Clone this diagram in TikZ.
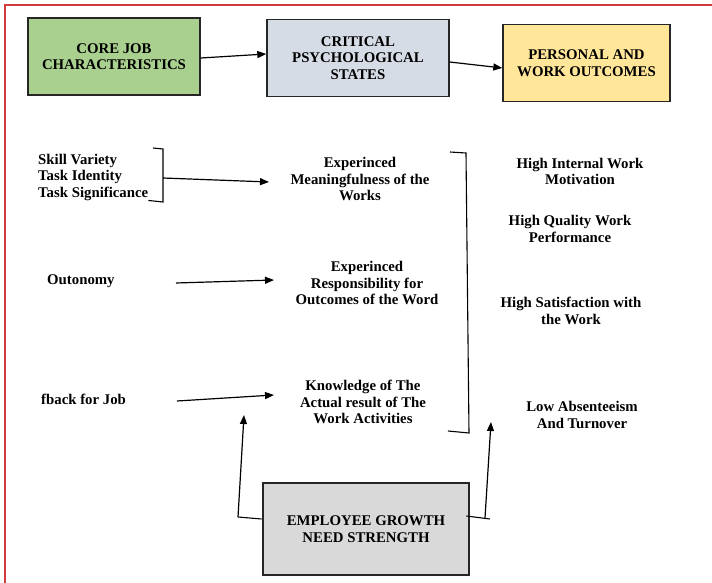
\documentclass[tikz,border=0pt]{standalone}
\usepackage{fontspec}
\setmainfont{Liberation Serif}
\usetikzlibrary{arrows.meta,calc}
\definecolor{cgreen}{HTML}{A9D08E}
\definecolor{cblue}{HTML}{D6DCE5}
\definecolor{cyellow}{HTML}{FFE699}
\definecolor{cgray}{HTML}{D9D9D9}
\definecolor{cred}{HTML}{D23A40}
\begin{document}
\begin{tikzpicture}[x=1pt,y=-1pt,
  box/.style={draw=black!85, line width=1.4pt, align=center, inner sep=0pt,
    font=\bfseries\fontsize{14.8}{16.5}\selectfont},
  lbl/.style={align=center, inner sep=0pt, font=\bfseries\fontsize{14.8}{16.5}\selectfont},
  lbll/.style={align=left, inner sep=0pt, font=\bfseries\fontsize{14.8}{16.5}\selectfont},
  arr/.style={line width=1.2pt, -{Triangle[length=9pt,width=7pt]}},
  ln/.style={line width=1.1pt}]
\useasboundingbox (0,0) rectangle (712,583);
\draw[cred, line width=2pt] (5,583) -- (5,5) -- (712,5);

% top boxes
\node[box, fill=cgreen, minimum width=172pt, minimum height=77pt] (core) at (114,56.5) {CORE JOB\\CHARACTERISTICS};
\node[box, fill=cblue, minimum width=182pt, minimum height=77pt] (crit) at (358,58) {CRITICAL\\PSYCHOLOGICAL\\STATES};
\node[box, fill=cyellow, minimum width=167pt, minimum height=77pt] (pers) at (586.5,63) {PERSONAL AND\\WORK OUTCOMES};
\node[box, fill=cgray, line width=2.6pt, minimum width=206pt, minimum height=92pt] (emp) at (366,529) {EMPLOYEE GROWTH\\NEED STRENGTH};

\draw[arr] ($(core.east)+(0,1.5)$) -- ($(crit.west)+(0,-4)$);
\draw[arr] ($(crit.east)+(0,4)$) -- ($(pers.west)+(0,5)$);

% left column
\node[lbll, anchor=west] (skill) at (38,177) {Skill Variety\\Task Identity\\Task Significance};
\node[lbll, anchor=west] (outo) at (47,281) {Outonomy};
\node[lbll, anchor=west] (fback) at (41,399) {fback for Job};

% middle column
\node[lbl] (mean) at (360,179) {Experinced\\Meaningfulness of the\\Works};
\node[lbl] (resp) at (367,283) {Experinced\\Responsibility for\\Outcomes of the Word};
\node[lbl] (know) at (363,402) {Knowledge of The\\Actual result of The\\Work Activities};

% right column
\node[lbl] (motiv) at (580,171.5) {High Internal Work\\Motivation};
\node[lbl] (qual) at (570,229) {High Quality Work\\Performance};
\node[lbl] (satis) at (571,311) {High Satisfaction with\\the Work};
\node[lbl] (absent) at (582,415) {Low Absenteeism\\And Turnover};

% small bracket
\coordinate (sbt) at (163,149);
\coordinate (sbb) at (163,202);
\coordinate (sbm) at (163,178);
\draw[ln] (153,148) -- (sbt) -- (sbb) -- (skill.south east);
\coordinate (meanin) at (269,182);
\draw[arr] (sbm) -- (meanin);

% other arrows
\coordinate (outoend) at (176,283);
\coordinate (respin) at (274,280);
\draw[arr] (outoend) -- (respin);
\coordinate (fbackend) at (177,401);
\coordinate (knowin) at (274,395);
\draw[arr] (fbackend) -- (knowin);

% big bracket
\draw[ln] (450,152) -- (466,153) -- (469,433) -- (448,431);

% employee connectors
\coordinate (lc) at (238,517);
\coordinate (lt) at (244,415);
\draw[ln] ($(emp.west)+(0,-10)$) -- (lc);
\draw[arr] (lc) -- (lt);
\coordinate (rc) at (485,518);
\coordinate (rt) at (491,422);
\draw[ln] ($(emp.east)+(-4,-13)$) -- (490,519);
\draw[arr] (rc) -- (rt);
\end{tikzpicture}
\end{document}
